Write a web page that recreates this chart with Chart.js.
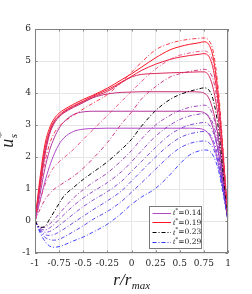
<!DOCTYPE html>
<html><head><meta charset="utf-8">
<script src="https://cdn.jsdelivr.net/npm/chart.js@4/dist/chart.umd.min.js"></script>
<style>html,body{margin:0;padding:0;background:#fff}</style>
</head><body>
<canvas id="c" width="252" height="294"></canvas>
<script>
// radial positions r/r_max
const rGrid = [-1,-0.95,-0.9,-0.85,-0.8,-0.75,-0.7,-0.6,-0.5,-0.4,-0.25,-0.1,0,0.1,0.25,0.4,0.5,0.6,0.7,0.75,0.8,0.85,0.9,0.95,1];

// solid profiles, t* = 0.14 ... 0.19
const solid1 = [0,0.6,1.2,1.7,2.1,2.4,2.6,2.8,2.87,2.89,2.9,2.9,2.9,2.9,2.9,2.9,2.9,2.9,2.89,2.85,2.72,2.4,1.8,0.95,0];
const solid2 = [0,0.8,1.6,2.2,2.6,2.9,3.1,3.33,3.41,3.43,3.43,3.43,3.43,3.43,3.43,3.43,3.43,3.43,3.42,3.39,3.25,2.85,2.15,1.1,0];
const solid3 = [0,1.0,2.0,2.7,3.05,3.25,3.38,3.55,3.7,3.85,3.97,4.02,4.03,4.04,4.04,4.04,4.04,4.04,4.03,4.0,3.85,3.4,2.6,1.35,0];
const solid4 = [0,1.05,2.1,2.75,3.1,3.28,3.4,3.58,3.72,3.87,4.05,4.33,4.5,4.58,4.61,4.63,4.64,4.65,4.66,4.66,4.55,4.1,3.2,1.7,0];
const solid5 = [0,1.15,2.2,2.8,3.13,3.3,3.43,3.6,3.75,3.9,4.1,4.35,4.52,4.7,4.9,5.05,5.12,5.17,5.21,5.23,5.15,4.7,3.65,1.95,0];
const solid6 = [0,1.3,2.35,2.9,3.2,3.37,3.48,3.65,3.8,3.93,4.15,4.42,4.6,4.8,5.1,5.35,5.45,5.52,5.57,5.6,5.52,5.05,3.9,2.05,0];

// dash-dot profiles, t* > 0.19 ... 0.29
const dash1 = [0,1.0,1.8,2.4,2.75,2.95,3.1,3.3,3.5,3.68,3.95,4.35,4.65,4.95,5.35,5.55,5.63,5.68,5.71,5.72,5.65,5.25,4.1,2.2,0];
const dash2 = [0,0.6,1.1,1.45,1.7,1.85,1.98,2.24,2.55,2.85,3.3,3.75,4.05,4.35,4.75,5.05,5.18,5.25,5.3,5.31,5.25,4.9,3.85,2.05,0];
const dash3 = [0,0.35,0.65,0.85,1.0,1.1,1.2,1.4,1.65,1.95,2.45,3.05,3.4,3.8,4.2,4.5,4.6,4.67,4.72,4.74,4.68,4.38,3.5,1.9,0];
const dash023 = [0,-0.2,-0.18,0.05,0.3,0.55,0.78,1.05,1.3,1.52,1.85,2.25,2.55,2.95,3.45,3.8,3.95,4.05,4.13,4.16,4.1,3.75,2.9,1.5,0];
const dash5 = [0,-0.18,-0.2,-0.1,0.05,0.22,0.4,0.72,0.98,1.2,1.5,1.9,2.2,2.55,3.0,3.3,3.45,3.55,3.6,3.62,3.55,3.25,2.55,1.35,0];
const dash6 = [0,-0.22,-0.28,-0.22,-0.1,0.05,0.2,0.48,0.72,0.92,1.2,1.55,1.85,2.18,2.65,3.0,3.17,3.28,3.34,3.35,3.28,3.0,2.35,1.25,0];
const dash7 = [0,-0.25,-0.35,-0.33,-0.25,-0.14,-0.02,0.22,0.45,0.65,0.92,1.25,1.55,1.85,2.3,2.7,2.88,3.0,3.06,3.08,3.02,2.75,2.15,1.15,0];
const dash8 = [0,-0.28,-0.42,-0.45,-0.42,-0.34,-0.25,-0.05,0.15,0.35,0.63,0.95,1.25,1.55,2.0,2.4,2.6,2.72,2.78,2.8,2.75,2.5,1.95,1.05,0];
const dash9 = [0,-0.3,-0.5,-0.58,-0.6,-0.57,-0.5,-0.33,-0.15,0.05,0.3,0.62,0.9,1.18,1.62,2.05,2.28,2.42,2.49,2.5,2.45,2.25,1.75,0.95,0];
const dash029 = [0,-0.35,-0.62,-0.78,-0.82,-0.8,-0.75,-0.62,-0.5,-0.35,-0.1,0.25,0.52,0.74,1.02,1.45,1.78,2.06,2.19,2.22,2.2,2.02,1.6,0.85,0];

const xTickValues = [-1,-0.75,-0.5,-0.25,0,0.25,0.5,0.75,1];
const xTickLabels = ['-1','-0.75','-0.5','-0.25','0','0.25','0.5','0.75','1'];
const yTickLabels = ['-1','0','1','2','3','4','5','6'];
const legendLabels = ['0.14','0.19','0.23','0.29'];

// styles
const DD = [4,2,1,2];
const series = [
  {v: dash1, c:'rgba(250,40,60,0.9)', d:DD},
  {v: dash2, c:'rgba(232,70,120,0.9)', d:DD},
  {v: dash3, c:'rgba(200,40,120,0.9)', d:DD},
  {v: dash023, c:'#000000', d:DD},
  {v: dash5, c:'rgba(150,50,180,0.9)', d:DD},
  {v: dash6, c:'rgba(135,50,195,0.9)', d:DD},
  {v: dash7, c:'rgba(118,55,210,0.9)', d:DD},
  {v: dash8, c:'rgba(95,55,225,0.9)', d:DD},
  {v: dash9, c:'rgba(70,55,240,0.9)', d:DD},
  {v: dash029, c:'rgba(45,50,255,0.9)', d:DD},
  {v: solid1, c:'rgb(176,72,200)', d:[]},
  {v: solid2, c:'rgb(180,55,160)', d:[]},
  {v: solid3, c:'rgb(200,45,120)', d:[]},
  {v: solid4, c:'rgb(220,40,90)', d:[]},
  {v: solid5, c:'rgb(240,30,60)', d:[]},
  {v: solid6, c:'rgb(255,20,35)', d:[]}
];
const legendStyles = [
  {c:'rgb(176,72,200)', d:[]},
  {c:'rgb(255,20,35)', d:[]},
  {c:'#000000', d:DD},
  {c:'rgb(45,50,255)', d:DD}
];

const datasets = series.map(s => ({
  data: rGrid.map((r,i)=>({x:r, y:s.v[i]})),
  borderColor: s.c,
  borderDash: s.d,
  borderWidth: 1,
  pointRadius: 0,
  fill: false,
  cubicInterpolationMode: 'monotone'
}));

const SERIF = "'DejaVu Serif', serif";
const frameColor = '#808080';

const deco = {
  id:'deco',
  afterDraw(chart){
    const ctx = chart.ctx, a = chart.chartArea;
    const xs = chart.scales.x, ys = chart.scales.y;
    ctx.save();
    // frame
    ctx.strokeStyle = frameColor; ctx.lineWidth = 1;
    ctx.strokeRect(Math.round(a.left)+0.5, Math.round(a.top)+0.5, Math.round(a.right-a.left)-1, Math.round(a.bottom-a.top)-1);
    // inward ticks
    ctx.beginPath();
    xTickValues.forEach(v=>{
      const px = Math.round(xs.getPixelForValue(v))+0.5;
      ctx.moveTo(px,a.bottom); ctx.lineTo(px,a.bottom-2.5);
      ctx.moveTo(px,a.top); ctx.lineTo(px,a.top+2.5);
    });
    yTickLabels.forEach(l=>{
      const py = Math.round(ys.getPixelForValue(+l))+0.5;
      ctx.moveTo(a.left,py); ctx.lineTo(a.left+2.5,py);
      ctx.moveTo(a.right,py); ctx.lineTo(a.right-2.5,py);
    });
    ctx.stroke();

    // x title r/r_max
    ctx.fillStyle = '#1a1a1a';
    ctx.textBaseline = 'alphabetic';
    const f1 = "italic 17px 'Liberation Serif', serif", f2 = "italic 11px 'Liberation Serif', serif";
    ctx.font = f1; const w1 = ctx.measureText('r/r').width;
    ctx.font = f2; const w2 = ctx.measureText('max').width;
    let x0 = (a.left+a.right)/2 - (w1+w2)/2;
    ctx.font = f1; ctx.fillText('r/r', x0, 285);
    ctx.font = f2; ctx.fillText('max', x0+w1+0.5, 289);

    // y title u_s^*
    ctx.save();
    ctx.translate(13, (a.top+a.bottom)/2);
    ctx.rotate(-Math.PI/2);
    ctx.font = "italic 18px 'Liberation Serif', serif";
    const wu = ctx.measureText('u').width;
    ctx.font = "italic 11px 'Liberation Serif', serif";
    const ws = ctx.measureText('s').width;
    const xs0 = -(wu+ws)/2;
    ctx.font = "italic 18px 'Liberation Serif', serif";
    ctx.fillText('u', xs0, 0);
    ctx.font = "italic 11px 'Liberation Serif', serif";
    ctx.fillText('s', xs0+wu+0.5, 3.5);
    ctx.font = "13px 'Liberation Serif', serif";
    ctx.fillText('*', xs0+wu+0.5, -8);
    ctx.restore();

    // legend
    const bx = 149, by = 206, bw = 52, bh = 42;
    ctx.fillStyle = '#ffffff';
    ctx.fillRect(bx,by,bw,bh);
    ctx.strokeStyle = '#7a7a7a';
    ctx.strokeRect(bx+0.5,by+0.5,bw,bh);
    legendLabels.forEach((lab,i)=>{
      const y = 212.5 + i*9.7;
      const st = legendStyles[i];
      ctx.strokeStyle = st.c; ctx.lineWidth = 1; ctx.setLineDash(st.d);
      ctx.beginPath(); ctx.moveTo(152.5,Math.round(y)+0.5); ctx.lineTo(171,Math.round(y)+0.5); ctx.stroke();
      ctx.setLineDash([]);
      ctx.fillStyle = '#1a1a1a';
      ctx.textBaseline = 'middle';
      let tx = 173;
      ctx.font = "italic 8px 'Liberation Serif', serif";
      ctx.fillText('t', tx, y+0.5); tx += ctx.measureText('t').width;
      ctx.font = "6px 'Liberation Serif', serif";
      ctx.fillText('*', tx, y-2); tx += ctx.measureText('*').width;
      ctx.font = "7.5px " + SERIF;
      ctx.fillText('=' + lab, tx, y+0.5);
    });
    ctx.restore();
  }
};

new Chart(document.getElementById('c'), {
  type:'line',
  data:{datasets},
  options:{
    responsive:false, animation:false, devicePixelRatio:1,
    layout:{padding:{left:0,right:24,top:29,bottom:0}},
    plugins:{legend:{display:false}, tooltip:{enabled:false}},
    scales:{
      x:{type:'linear', min:-1, max:1,
        ticks:{stepSize:0.25, autoSkip:false, maxRotation:0, padding:5, color:'#262626',
          font:{family:'DejaVu Serif', size:9},
          callback:(v)=>{const i = xTickValues.findIndex(t=>Math.abs(t-v)<1e-6); return i>=0?xTickLabels[i]:'';}},
        grid:{color:'#e6e6e6', drawTicks:false},
        border:{display:false},
        afterFit:(s)=>{s.height=41;}
      },
      y:{min:-1, max:6,
        ticks:{stepSize:1, padding:4, color:'#262626',
          font:{family:'DejaVu Serif', size:9},
          callback:(v)=>{const i = yTickLabels.indexOf(String(v)); return i>=0?yTickLabels[i]:'';}},
        grid:{color:'#e6e6e6', drawTicks:false},
        border:{display:false},
        afterFit:(s)=>{s.height; s.width=35;}
      }
    }
  },
  plugins:[deco]
});
</script>
</body></html>
